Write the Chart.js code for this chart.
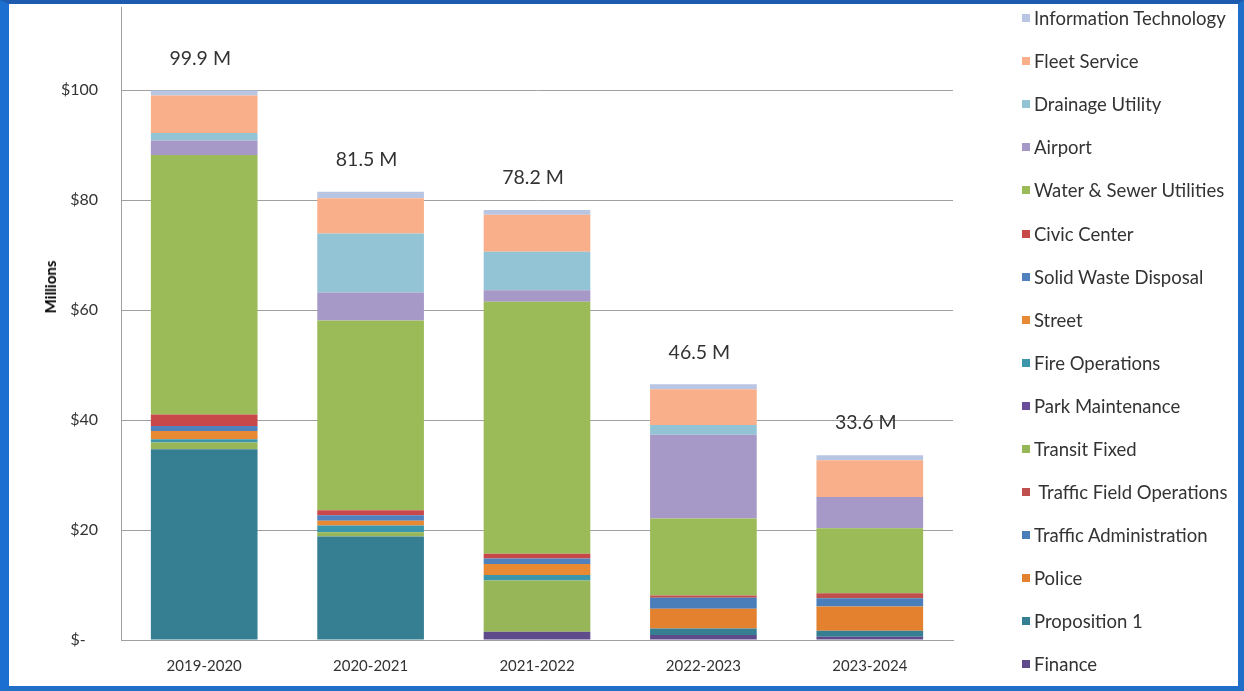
<!DOCTYPE html>
<html>
<head>
<meta charset="utf-8">
<script src="https://cdn.jsdelivr.net/npm/chart.js@4.4.1/dist/chart.umd.min.js"></script>
<style>
  html, body { margin: 0; padding: 0; background: #fff; }
  #frame { position: absolute; left: 0; top: 0; width: 1244px; height: 691px; box-sizing: border-box;
           border-style: solid; border-color: #1f6fc9 #1f6fc9 #1f6fc9 #1b6fd0; border-top-color: #1d5bb0;
           border-width: 4px 6px 5px 9px; background: #fff; }
  #wrap { position: absolute; left: 0; top: 0; width: 1244px; height: 691px; }
  #ytitle { position: absolute; left: 50px; top: 287px; transform: translate(-50%, -50%) rotate(-90deg);
            font: bold 15px Lato, sans-serif; color: #000; white-space: nowrap; }
  #legend { position: absolute; left: 1022px; top: -3.5px; font: 18.5px Lato, sans-serif; color: #333; }
  #legend .row { height: 43.1px; display: flex; align-items: center; white-space: pre; }
  #legend .box { width: 8px; height: 8px; margin-right: 4px; flex: none; }
</style>
</head>
<body>
<div id="frame"></div>
<div id="wrap"><canvas id="budget"></canvas></div>
<div id="ytitle">Millions</div>
<div id="legend"></div>
<script>
// categories and labels
const years = ['2019-2020', '2020-2021', '2021-2022', '2022-2023', '2023-2024'];
const totalLabels = ['99.9 M', '81.5 M', '78.2 M', '46.5 M', '33.6 M'];
const yTicks = [0, 20, 40, 60, 80, 100];

// values in $ millions (bottom of the stack first)
const finance         = [0,    0,    1.5,  0.9,  0.6];
const proposition1    = [34.7, 18.8, 0,    1.2,  1.1];
const police          = [0,    0,    0,    3.6,  4.4];
const trafficAdmin    = [0,    0,    0,    2.0,  1.5];
const trafficField    = [0,    0,    0,    0.4,  0.9];
const transitFixed    = [1.2,  0.8,  9.3,  0,    0];
const parkMaintenance = [0,    0,    0,    0,    0];
const fireOperations  = [0.6,  1.2,  1.0,  0,    0];
const street          = [1.5,  0.9,  2.0,  0,    0];
const solidWaste      = [0.9,  1.0,  1.0,  0,    0];
const civicCenter     = [2.1,  0.9,  0.9,  0,    0];
const waterSewer      = [47.2, 34.5, 45.8, 14.0, 11.8];
const airport         = [2.6,  5.1,  2.1,  15.2, 5.7];
const drainage        = [1.4,  10.7, 7.0,  1.8,  0];
const fleet           = [6.8,  6.4,  6.7,  6.5,  6.7];
const infoTech        = [0.9,  1.2,  0.9,  0.9,  0.9];

function ds(label, data, color) {
    return { label: label, data: data, backgroundColor: color, borderWidth: 0 };
}

const datasets = [
    ds('Finance', finance, '#5f4b8b'),
    ds('Proposition 1', proposition1, '#367f93'),
    ds('Police', police, '#e3812f'),
    ds('Traffic Administration', trafficAdmin, '#4a7ebb'),
    ds(' Traffic Field Operations', trafficField, '#c0504d'),
    ds('Transit Fixed', transitFixed, '#97b657'),
    ds('Park Maintenance', parkMaintenance, '#6b4c9a'),
    ds('Fire Operations', fireOperations, '#3b95ab'),
    ds('Street', street, '#e88a34'),
    ds('Solid Waste Disposal', solidWaste, '#4f81bd'),
    ds('Civic Center', civicCenter, '#c8484a'),
    ds('Water & Sewer Utilities', waterSewer, '#9bbb59'),
    ds('Airport', airport, '#a699c7'),
    ds('Drainage Utility', drainage, '#93c4d6'),
    ds('Fleet Service', fleet, '#f9b08a'),
    ds('Information Technology', infoTech, '#b8c5e3')
];

// total above each column
const totalsPlugin = {
    id: 'totals',
    afterDatasetsDraw(chart) {
        const ctx = chart.ctx, xs = chart.scales.x, ys = chart.scales.y;
        ctx.save();
        ctx.font = '19.5px Lato, sans-serif';
        ctx.fillStyle = '#333';
        ctx.textAlign = 'center';
        ctx.textBaseline = 'middle';
        years.forEach(function (yr, i) {
            let sum = 0;
            chart.data.datasets.forEach(function (d) { sum += d.data[i]; });
            ctx.fillText(totalLabels[i], xs.getPixelForValue(i) - 4, ys.getPixelForValue(sum) - 32);
        });
        ctx.restore();
    }
};

const gridGray = '#a0a0a0';

const chart = new Chart(document.getElementById('budget'), {
    type: 'bar',
    data: { labels: years, datasets: datasets },
    plugins: [totalsPlugin],
    options: {
        responsive: true,
        maintainAspectRatio: false,
        animation: false,
        layout: { padding: { left: 0, right: 291, top: 7.5, bottom: 0 } },
        datasets: { bar: { barPercentage: 0.641, categoryPercentage: 1 } },
        plugins: { legend: { display: false }, tooltip: { enabled: false } },
        scales: {
            x: {
                stacked: true,
                grid: { display: false, drawTicks: false },
                border: { display: true, color: gridGray },
                ticks: { color: '#333', font: { family: 'Lato', size: 15 }, padding: 17 },
                afterFit(s) { s.height = 51; s.paddingLeft = 0; s.paddingRight = 0; }
            },
            y: {
                stacked: true,
                min: 0,
                max: 115,
                grid: { color: gridGray, drawTicks: false },
                border: { display: true, color: gridGray },
                ticks: {
                    color: '#333',
                    font: { family: 'Lato', size: 16 },
                    padding: 23,
                    callback: function (v) { return v === 0 ? '$-   ' : '$' + v; }
                },
                afterBuildTicks(s) { s.ticks = yTicks.map(function (v) { return { value: v }; }); },
                afterFit(s) { s.width = 121; s.paddingTop = 0; s.paddingBottom = 0; }
            }
        }
    }
});

// legend, built from the chart's own legend items, top series first
const items = chart.options.plugins.legend.labels.generateLabels(chart).reverse();
const legendEl = document.getElementById('legend');
items.forEach(function (it) {
    const row = document.createElement('div');
    row.className = 'row';
    const box = document.createElement('span');
    box.className = 'box';
    box.style.background = it.fillStyle;
    row.appendChild(box);
    row.appendChild(document.createTextNode(it.text));
    legendEl.appendChild(row);
});
</script>
</body>
</html>
